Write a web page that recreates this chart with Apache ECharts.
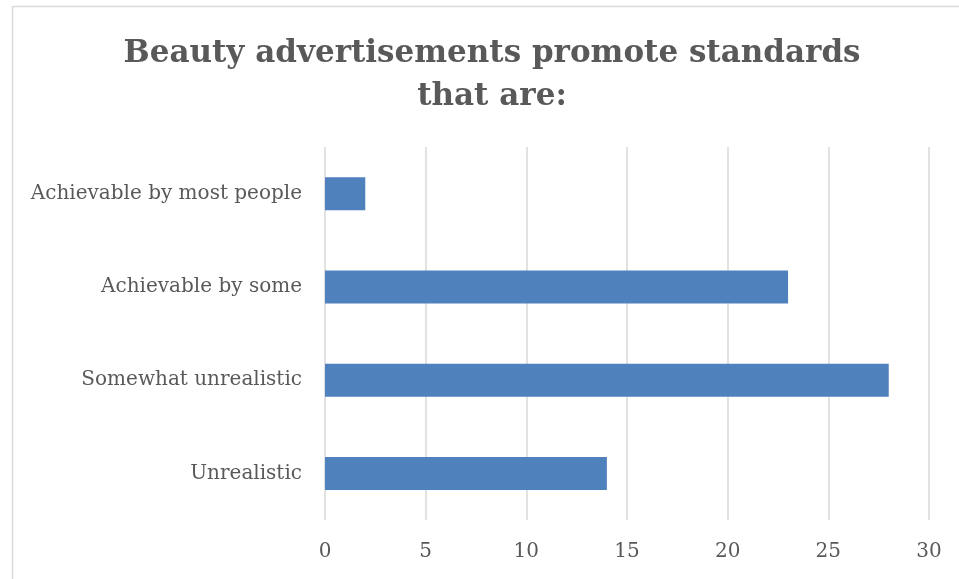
<!DOCTYPE html>
<html>
<head>
<meta charset="utf-8">
<style>
  html, body { margin: 0; padding: 0; background: #ffffff; }
  #chart { width: 959px; height: 579px; }
</style>
<script src="https://cdn.jsdelivr.net/npm/echarts@6/dist/echarts.min.js"></script>
</head>
<body>
<div id="chart"></div>
<script>
// Survey responses: how realistic are the standards in beauty ads
const categories = ['Achievable by most people', 'Achievable by some', 'Somewhat unrealistic', 'Unrealistic'];
const responses = [2, 23, 28, 14];
const valueTicks = [0, 5, 10, 15, 20, 25, 30];

const chart = echarts.init(document.getElementById('chart'), null, { renderer: 'canvas' });

const serif = '"DejaVu Serif", "Liberation Serif", serif';
const labelColor = '#595959';
const gridColor = '#d9d9d9';

chart.setOption({
  animation: false,
  backgroundColor: '#ffffff',
  graphic: [{
    type: 'rect',
    shape: { x: 12.5, y: 6.5, width: 1000, height: 1000 },
    style: { fill: 'none', stroke: gridColor, lineWidth: 1.5 },
    silent: true,
    z: -1
  }],
  title: {
    text: 'Beauty advertisements promote standards\nthat are:',
    left: 487,
    textAlign: 'center',
    top: 27,
    textStyle: {
      fontFamily: serif,
      fontWeight: 'bold',
      fontSize: 31,
      lineHeight: 43,
      color: labelColor
    }
  },
  grid: { left: 325, right: 30, top: 147, bottom: 59, containLabel: false },
  xAxis: {
    type: 'value',
    min: valueTicks[0],
    max: valueTicks[valueTicks.length - 1],
    interval: valueTicks[1] - valueTicks[0],
    axisLine: { show: false },
    axisTick: { show: false },
    splitLine: { show: true, lineStyle: { color: gridColor, width: 1.5 } },
    axisLabel: { margin: 22, fontFamily: serif, fontSize: 20, color: labelColor }
  },
  yAxis: {
    type: 'category',
    inverse: true,
    data: categories,
    axisLine: { show: false },
    axisTick: { show: false },
    splitLine: { show: false },
    axisLabel: { margin: 23, fontFamily: serif, fontSize: 20, color: labelColor }
  },
  series: [{
    type: 'bar',
    data: responses,
    barWidth: 33,
    itemStyle: { color: '#4f81bd' },
    emphasis: { disabled: true }
  }]
});
</script>
</body>
</html>
